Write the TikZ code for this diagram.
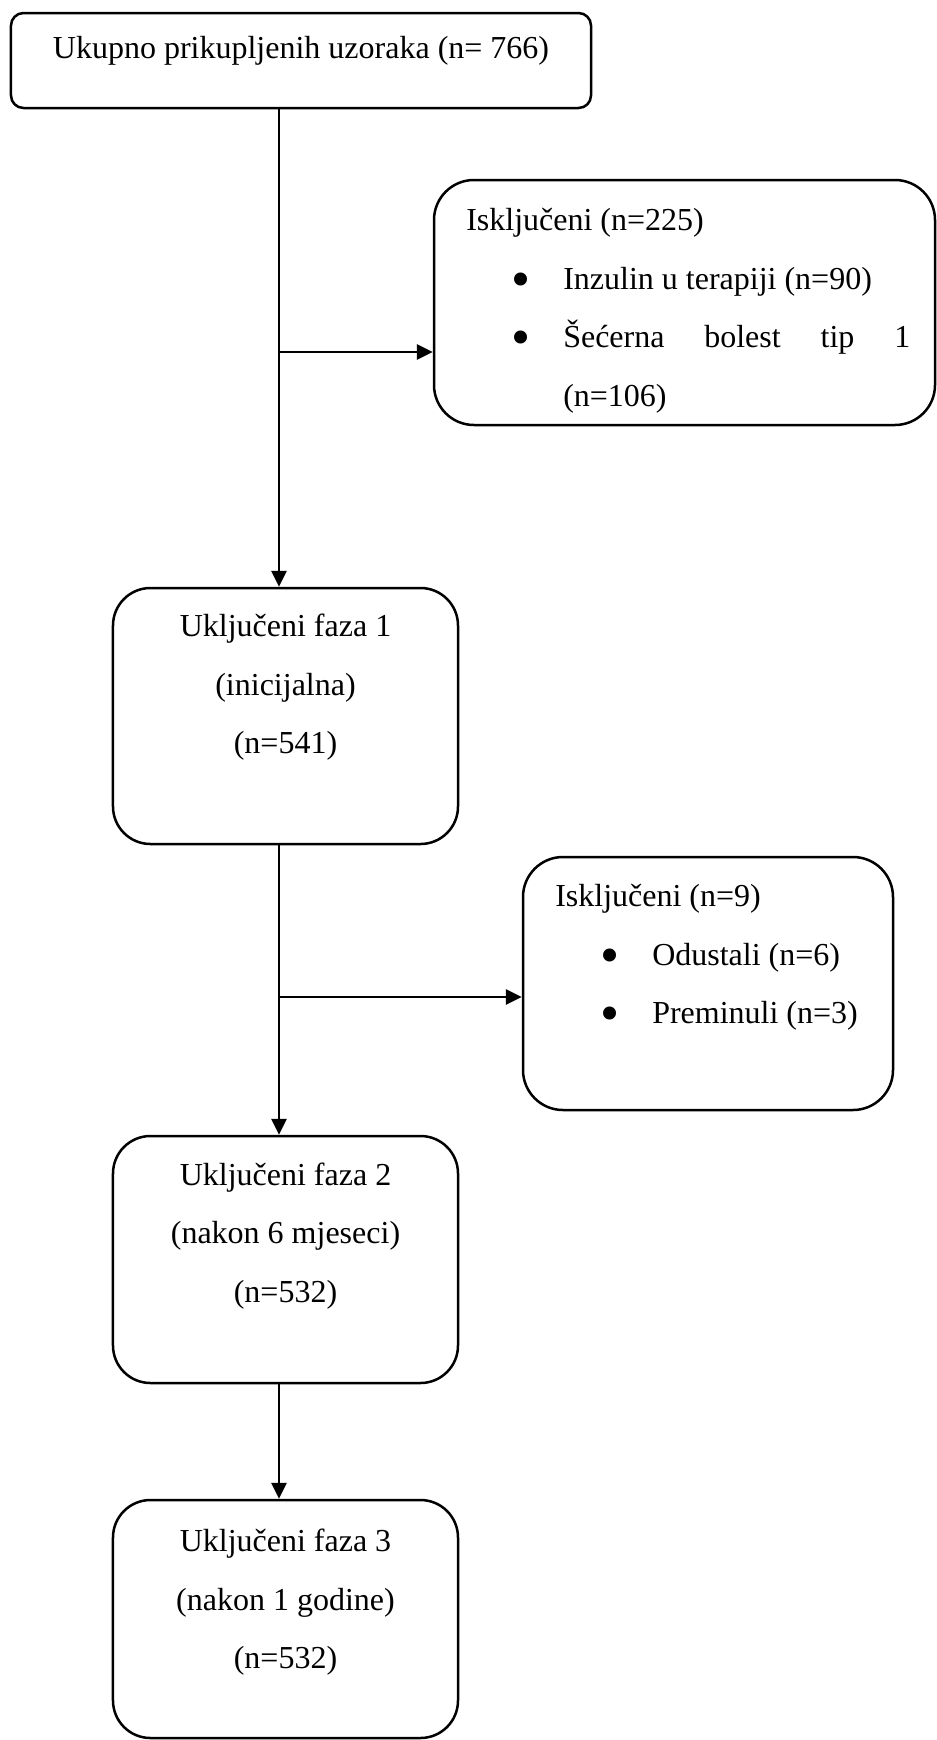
\documentclass[tikz,border=0pt]{standalone}
\usepackage{fontspec}
\setmainfont{Liberation Serif}
\usepackage{tikz}
\usetikzlibrary{positioning, arrows.meta, calc}
\definecolor{ink}{RGB}{0,0,0}
\newcommand{\blt}{\hspace*{18.2pt}\makebox[20.6pt][l]{\raisebox{-3.2pt}{\scalebox{1.7}{\textbullet}}}}
\tikzset{
  box/.style      ={rectangle, draw=ink, line width=1pt, inner sep=0pt},
  topbox/.style   ={box, rounded corners=5pt},
  stagebox/.style ={box, rounded corners=15pt},
  exbox/.style    ={box, rounded corners=16pt},
  boxtext/.style  ={inner sep=0pt, font=\fontsize{12.8}{23.4}\selectfont, color=ink},
  stagetext/.style={boxtext, align=center, anchor=north},
  extext/.style   ={boxtext, align=left, anchor=north west},
  arr/.style      ={-{Triangle[length=6.4pt, width=6pt]}, line width=1.1pt, color=ink},
}

\begin{document}
\begin{tikzpicture}[x=0.4pt, y=-0.4pt]
\useasboundingbox (0,0) rectangle (937,1740);

\node[topbox, minimum width=232pt, minimum height=38pt] (top) at (301,60.5) {};
\node[boxtext, anchor=base] (topt) at ([yshift=-18.5pt]top.north)
  {Ukupno prikupljenih uzoraka (n= 766)};

\node[exbox, minimum width=200.4pt, minimum height=98pt] (ex1) at (684.5,302.5) {};
\node[extext] (ex1t) at ([xshift=13.2pt, yshift=-11.6pt]ex1.north west)
  {Isključeni (n=225)\\
   \blt Inzulin u terapiji (n=90)\\
   \blt\makebox[138.8pt][s]{Šećerna bolest tip 1}\\
   \hspace*{38.8pt}(n=106)};

\node[stagebox, minimum width=138pt, minimum height=102.4pt] (f1) at (285.5,716) {};
\node[stagetext] (f1t) at ([yshift=-10.8pt]f1.north)
  {Uključeni faza 1\\(inicijalna)\\(n=541)};

\node[exbox, minimum width=148pt, minimum height=101.2pt] (ex2) at (708,983.5) {};
\node[extext] (ex2t) at ([xshift=13.2pt, yshift=-11.2pt]ex2.north west)
  {Isključeni (n=9)\\
   \blt Odustali (n=6)\\
   \blt Preminuli (n=3)};

\node[stagebox, minimum width=138pt, minimum height=98.8pt] (f2) at (285.5,1259.5) {};
\node[stagetext] (f2t) at ([yshift=-10.9pt]f2.north)
  {Uključeni faza 2\\(nakon 6 mjeseci)\\(n=532)};

\node[stagebox, minimum width=138pt, minimum height=95.2pt] (f3) at (285.5,1619) {};
\node[stagetext] (f3t) at ([yshift=-11.9pt]f3.north)
  {Uključeni faza 3\\(nakon 1 godine)\\(n=532)};

% spine and side branches
\coordinate (spine) at (279,0);
\coordinate (br1) at (279,352);
\coordinate (br2) at (279,997);

\draw[arr] (top.south -| spine) -- (f1.north -| spine);
\draw[arr] (br1) -- (br1 -| ex1.west);
\draw[arr] (f1.south -| spine) -- (f2.north -| spine);
\draw[arr] (br2) -- (br2 -| ex2.west);
\draw[arr] (f2.south -| spine) -- (f3.north -| spine);
\end{tikzpicture}
\end{document}
